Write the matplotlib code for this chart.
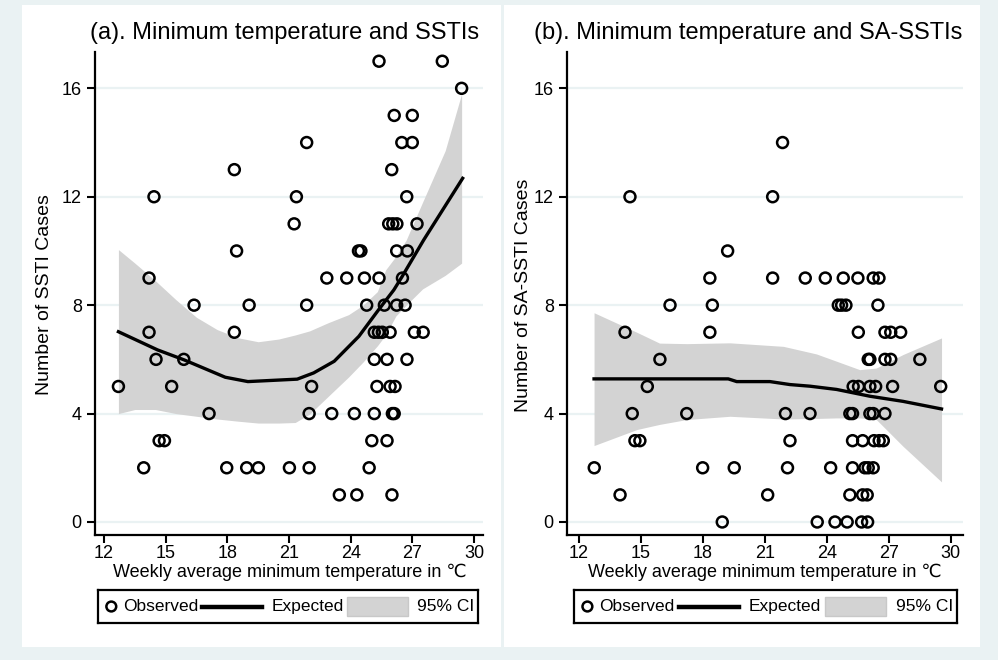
import matplotlib
matplotlib.use("Agg")
import matplotlib.pyplot as plt
from matplotlib.patches import Rectangle

plt.rcParams['font.family'] = ['Liberation Sans', 'DejaVu Sans']

BG = '#eaf2f3'
CI_COL = '#d3d3d3'

# ---- panel (a): SSTIs ----
temp_a = [25.38, 28.46,
          29.4,
          26.12, 27.0,
          21.86, 26.49, 27.0,
          18.34, 26.0,
          14.43, 21.36, 26.73,
          21.25, 25.85, 26.05, 26.25, 27.23,
          18.45, 24.38, 24.5, 26.24, 26.76,
          14.19, 22.84, 23.81, 24.67, 25.38, 26.52,
          16.38, 19.06, 21.86, 24.78, 25.64, 26.24, 26.65,
          14.19, 18.34, 25.15, 25.35, 25.54, 25.92, 27.1, 27.53,
          14.53, 15.88, 25.15, 25.77, 26.74,
          12.7, 15.29, 22.1, 25.28, 25.92, 26.16,
          17.11, 21.98, 23.08, 24.18, 25.15, 26.03, 26.12,
          14.68, 14.94, 25.03, 25.77,
          13.93, 17.97, 18.94, 19.51, 21.02, 21.98, 24.9,
          23.45, 24.3, 26.01]
cases_a = ([17] * 2 + [16] + [15] * 2 + [14] * 3 + [13] * 2 + [12] * 3 + [11] * 5 +
           [10] * 5 + [9] * 6 + [8] * 7 + [7] * 8 + [6] * 5 + [5] * 6 + [4] * 7 +
           [3] * 4 + [2] * 7 + [1] * 3)

fit_t_a = [12.7, 14.6, 15.9, 17.9, 19.0, 21.4, 22.2, 23.2, 24.4, 25.35, 26.1, 26.5, 27.55, 29.45]
fit_y_a = [7.02, 6.35, 5.98, 5.34, 5.18, 5.27, 5.5, 5.93, 6.85, 7.82, 8.56, 9.05, 10.4, 12.68]

ci_t_a = [12.7, 13.5, 14.5, 15.5, 16.5, 17.5, 18.5, 19.5, 20.5, 21.3, 22.0,
          22.9, 23.9, 24.6, 25.3, 25.7, 26.2, 26.7, 27.5, 28.6, 29.4]
ci_hi_a = [10.05, 9.55, 8.9, 8.2, 7.55, 7.1, 6.8, 6.65, 6.75, 6.9, 7.05,
           7.35, 7.65, 8.0, 8.5, 9.3, 9.8, 10.4, 11.8, 13.7, 15.8]
ci_lo_a = [4.0, 4.15, 4.15, 4.0, 3.9, 3.8, 3.72, 3.65, 3.65, 3.67, 3.98,
           4.63, 5.35, 5.9, 6.5, 6.9, 7.6, 8.0, 8.6, 9.1, 9.55]

# ---- panel (b): SA-SSTIs ----
temp_b = [21.86,
          14.47, 21.38,
          19.2,
          18.34, 21.38, 22.96, 23.93, 24.8, 25.51, 26.25, 26.53,
          16.41, 18.46, 24.56, 24.72, 24.93, 26.48,
          14.23, 18.34, 25.53, 26.82, 27.1, 27.58,
          15.92, 26.01, 26.09, 26.82, 27.1, 28.51,
          15.31, 25.28, 25.54, 26.09, 26.37, 27.19, 29.52,
          14.58, 17.22, 22.0, 23.19, 25.12, 25.25, 26.09, 26.25, 26.82,
          14.71, 14.95, 22.22, 25.25, 25.74, 26.29, 26.54, 26.74,
          12.74, 17.99, 19.52, 22.1, 24.19, 25.25, 25.85, 26.01, 26.25,
          13.99, 21.14, 25.12, 25.74, 25.96,
          18.94, 23.54, 24.4, 24.99, 25.69, 25.98]
cases_b = ([14] + [12] * 2 + [10] + [9] * 8 + [8] * 6 + [7] * 6 + [6] * 6 + [5] * 7 +
           [4] * 9 + [3] * 8 + [2] * 9 + [1] * 5 + [0] * 6)

fit_t_b = [12.73, 19.23, 19.64, 21.25, 22.22, 23.19, 24.48, 26.09, 27.7, 29.56]
fit_y_b = [5.28, 5.28, 5.18, 5.18, 5.07, 5.01, 4.89, 4.64, 4.45, 4.17]

ci_t_b = [12.73, 14.8, 15.9, 17.22, 19.31, 21.9, 23.5, 24.48, 25.6, 26.4, 27.7, 29.56]
ci_hi_b = [7.72, 7.0, 6.6, 6.58, 6.61, 6.48, 6.2, 5.93, 5.62, 5.68, 6.18, 6.79]
ci_lo_b = [2.82, 3.41, 3.6, 3.78, 3.9, 3.8, 3.82, 3.84, 3.84, 3.78, 2.79, 1.48]

xticks = [12, 15, 18, 21, 24, 27, 30]
yticks = [0, 4, 8, 12, 16]
W, H = 998, 660

fig = plt.figure(figsize=(W / 100, H / 100), dpi=100, facecolor=BG)

# white panel backgrounds, kept under the axes
for x0, x1 in [(22, 501), (504, 980)]:
    fig.patches.append(Rectangle((x0 / W, 13 / H), (x1 - x0) / W, 642 / H,
                                 transform=fig.transFigure, facecolor='white',
                                 edgecolor='none', zorder=-10))


def draw_panel(px_left, px_right, xlim, t, n, ft, fy, ct, clo, chi,
               title, title_x, ylabel, ylab_x, xlab_x, leg_left, leg_right):
    ax = fig.add_axes([px_left / W, (H - 535) / H, (px_right - px_left) / W, 483 / H])
    ax.set_zorder(1)
    ax.set_facecolor('white')
    for y in yticks:
        ax.axhline(y, color=BG, lw=1.6, zorder=0)
    ax.fill_between(ct, clo, chi, color=CI_COL, lw=0, zorder=1)
    ax.plot(ft, fy, color='black', lw=2.4, zorder=2)
    ax.scatter(t, n, s=62, facecolors='none', edgecolors='black', linewidths=1.8, zorder=3)
    ax.set_xlim(xlim)
    ax.set_ylim(-0.48, 17.34)
    ax.set_xticks(xticks)
    ax.set_yticks(yticks)
    for s in ['top', 'right']:
        ax.spines[s].set_visible(False)
    for s in ['left', 'bottom']:
        ax.spines[s].set_linewidth(1.6)
    ax.tick_params(direction='out', length=6, width=1.5, labelsize=13)
    ax.tick_params(axis='x', pad=1.5)

    fig.text(title_x / W, 1 - 33 / H, title, ha='center', va='center', fontsize=17, zorder=5)
    fig.text(xlab_x / W, 1 - 572 / H, 'Weekly average minimum temperature in \u2103',
             ha='center', va='center', fontsize=13, zorder=5)
    fig.text(ylab_x / W, 1 - 295 / H, ylabel, ha='center', va='center',
             rotation=90, fontsize=14, zorder=5)

    # legend box
    lax = fig.add_axes([leg_left / W, (H - 623) / H, (leg_right - leg_left) / W, 33 / H])
    lax.set_zorder(1)
    lax.set_xlim(0, 1)
    lax.set_ylim(0, 1)
    lax.set_xticks([])
    lax.set_yticks([])
    for s in lax.spines.values():
        s.set_linewidth(1.6)
    lax.scatter([0.035], [0.5], s=50, facecolors='none', edgecolors='black', linewidths=1.8)
    lax.text(0.065, 0.5, 'Observed', ha='left', va='center', fontsize=12.5)
    lax.plot([0.273, 0.432], [0.5, 0.5], color='black', lw=3.2)
    lax.text(0.456, 0.5, 'Expected', ha='left', va='center', fontsize=12.5)
    lax.add_patch(Rectangle((0.655, 0.2), 0.16, 0.6, facecolor=CI_COL, edgecolor='#c8c8c8', lw=1))
    lax.text(0.99, 0.5, '95% CI', ha='right', va='center', fontsize=12.5)
    return ax


draw_panel(95, 483, (11.56, 30.44), temp_a, cases_a, fit_t_a, fit_y_a,
           ci_t_a, ci_lo_a, ci_hi_a,
           '(a). Minimum temperature and SSTIs', 285,
           'Number of SSTI Cases', 45, 290, 98, 478)
draw_panel(567, 963, (11.42, 30.6), temp_b, cases_b, fit_t_b, fit_y_b,
           ci_t_b, ci_lo_b, ci_hi_b,
           '(b). Minimum temperature and SA-SSTIs', 748,
           'Number of SA-SSTI Cases', 523, 765, 574, 957)

fig.savefig('out.png', dpi=100, facecolor=BG)
